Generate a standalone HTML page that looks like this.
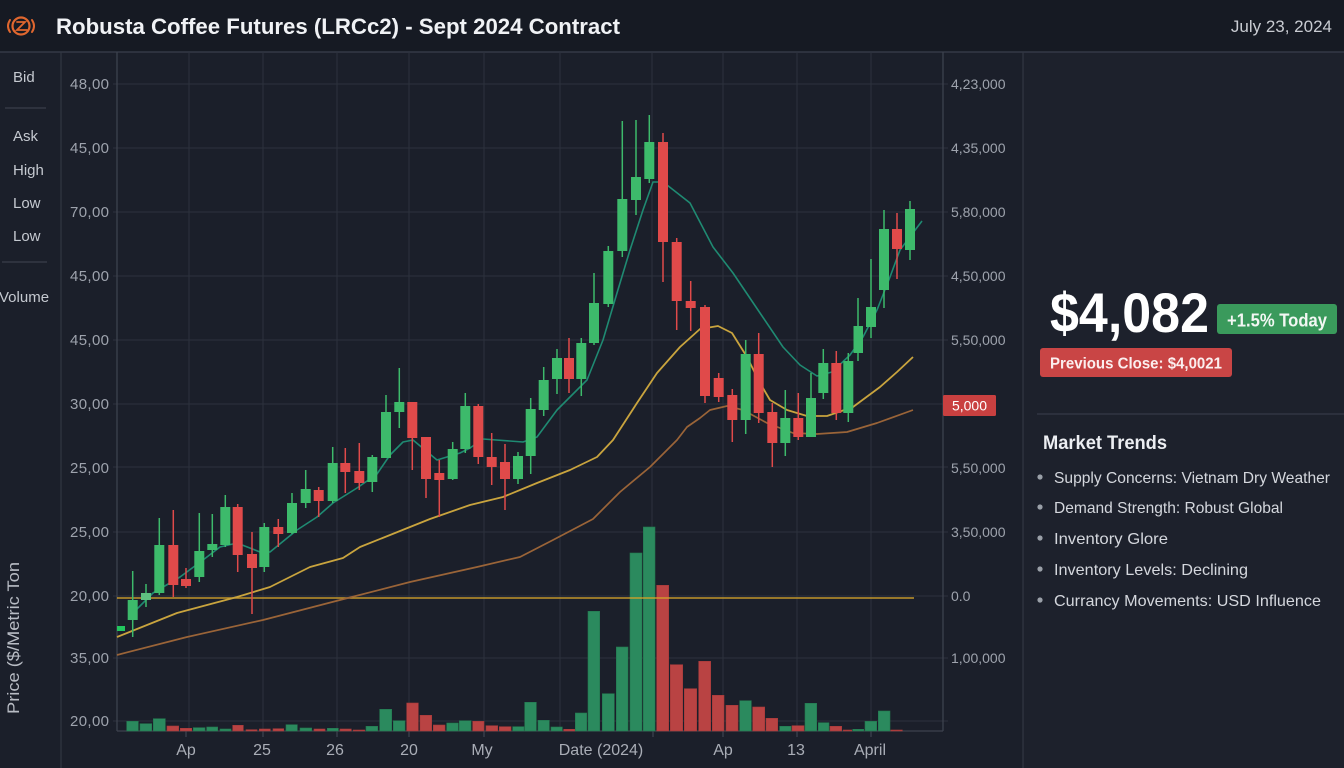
<!DOCTYPE html>
<html>
<head>
<meta charset="utf-8">
<style>
  html,body{margin:0;padding:0;background:#1b1f2a;}
  svg{display:block;}
  text{font-family:"Liberation Sans",Arial,sans-serif;}
</style>
</head>
<body>
<svg width="1344" height="768" viewBox="0 0 1344 768" xmlns="http://www.w3.org/2000/svg">
  <!-- backgrounds -->
  <rect x="0" y="0" width="1344" height="768" fill="#1b1f2a"/>
  <rect x="1023" y="52" width="321" height="716" fill="#1d212c"/>
  <rect x="0" y="0" width="1344" height="52" fill="#161a23"/>
  <line x1="0" y1="52" x2="1344" y2="52" stroke="#343946" stroke-width="1.5"/>

  <!-- logo -->
  <g fill="none" stroke="#e0672f" stroke-linecap="round">
    <circle cx="21" cy="26" r="8.5" stroke-width="2.2"/>
    <path d="M10 20 Q6 26 10 32" stroke-width="2"/>
    <path d="M32 20 Q36 26 32 32" stroke-width="2"/>
    <path d="M17 22 L25 22 L17 30 L27 30" stroke-width="1.8"/>
  </g>

  <!-- header text -->
  <text x="56" y="34" font-size="22" font-weight="bold" fill="#f0f2f5" textLength="564" lengthAdjust="spacingAndGlyphs">Robusta Coffee Futures (LRCc2) - Sept 2024 Contract</text>
  <text x="1332" y="32" font-size="17" fill="#c9ccd2" text-anchor="end">July 23, 2024</text>

  <!-- structural lines -->
  <line x1="61" y1="52" x2="61" y2="768" stroke="#323743" stroke-width="1.2"/>
  <line x1="1023" y1="52" x2="1023" y2="768" stroke="#323743" stroke-width="1.2"/>

  <!-- sidebar -->
  <g font-size="15" fill="#c5c9d0">
    <text x="13" y="82">Bid</text>
    <text x="13" y="141">Ask</text>
    <text x="13" y="175">High</text>
    <text x="13" y="208">Low</text>
    <text x="13" y="241">Low</text>
    <text x="-1" y="302">Volume</text>
  </g>
  <line x1="5" y1="108" x2="46" y2="108" stroke="#3a3f4a" stroke-width="1.2"/>
  <line x1="2" y1="262" x2="47" y2="262" stroke="#3a3f4a" stroke-width="1.2"/>

  <!-- y axis title -->
  <text transform="translate(19,714) rotate(-90)" font-size="17" fill="#b8bcc4" textLength="152" lengthAdjust="spacingAndGlyphs">Price ($/Metric Ton</text>

  <!-- grid -->
  <g stroke="#2d323d" stroke-width="1">
    <line x1="113" y1="84" x2="948" y2="84"/>
    <line x1="113" y1="148" x2="948" y2="148"/>
    <line x1="113" y1="212" x2="948" y2="212"/>
    <line x1="113" y1="276" x2="948" y2="276"/>
    <line x1="113" y1="340" x2="948" y2="340"/>
    <line x1="113" y1="404" x2="948" y2="404"/>
    <line x1="113" y1="467" x2="948" y2="467"/>
    <line x1="113" y1="532" x2="948" y2="532"/>
    <line x1="113" y1="596" x2="948" y2="596"/>
    <line x1="113" y1="658" x2="948" y2="658"/>
    <line x1="113" y1="721" x2="948" y2="721"/>
    <line x1="189" y1="52" x2="189" y2="731"/>
    <line x1="263" y1="52" x2="263" y2="731"/>
    <line x1="337" y1="52" x2="337" y2="731"/>
    <line x1="409" y1="52" x2="409" y2="731"/>
    <line x1="484" y1="52" x2="484" y2="731"/>
    <line x1="560" y1="52" x2="560" y2="731"/>
    <line x1="652" y1="52" x2="652" y2="731"/>
    <line x1="723" y1="52" x2="723" y2="731"/>
    <line x1="797" y1="52" x2="797" y2="731"/>
    <line x1="871" y1="52" x2="871" y2="731"/>
  </g>
  <!-- axes -->
  <g stroke="#3d424e" stroke-width="1.3">
    <line x1="117" y1="52" x2="117" y2="731"/>
    <line x1="943" y1="52" x2="943" y2="731"/>
    <line x1="117" y1="731" x2="943" y2="731"/>
    <line x1="186" y1="731" x2="186" y2="737"/>
    <line x1="263" y1="731" x2="263" y2="737"/>
    <line x1="337" y1="731" x2="337" y2="737"/>
    <line x1="409" y1="731" x2="409" y2="737"/>
    <line x1="484" y1="731" x2="484" y2="737"/>
    <line x1="653" y1="731" x2="653" y2="737"/>
    <line x1="723" y1="731" x2="723" y2="737"/>
    <line x1="797" y1="731" x2="797" y2="737"/>
    <line x1="871" y1="731" x2="871" y2="737"/>
  </g>

  <!-- left axis labels -->
  <g font-size="15" fill="#9ea3ad" text-anchor="end">
    <text x="109" y="89" textLength="39">48,00</text>
    <text x="109" y="153" textLength="39">45,00</text>
    <text x="109" y="217" textLength="39">70,00</text>
    <text x="109" y="281" textLength="39">45,00</text>
    <text x="109" y="345" textLength="39">45,00</text>
    <text x="109" y="409" textLength="39">30,00</text>
    <text x="109" y="473" textLength="39">25,00</text>
    <text x="109" y="537" textLength="39">25,00</text>
    <text x="109" y="601" textLength="39">20,00</text>
    <text x="109" y="663" textLength="39">35,00</text>
    <text x="109" y="726" textLength="39">20,00</text>
  </g>

  <!-- right axis labels -->
  <g font-size="14" fill="#9ea3ad">
    <text x="951" y="89">4,23,000</text>
    <text x="951" y="153">4,35,000</text>
    <text x="951" y="217">5,80,000</text>
    <text x="951" y="281">4,50,000</text>
    <text x="951" y="345">5,50,000</text>
    <text x="951" y="473">5,50,000</text>
    <text x="951" y="537">3,50,000</text>
    <text x="951" y="601">0.0</text>
    <text x="951" y="663">1,00,000</text>
  </g>
  <rect x="943" y="395" width="53" height="21" fill="#c94040" rx="1.5"/>
  <text x="969.5" y="410.5" font-size="14" fill="#ffffff" text-anchor="middle">5,000</text>

  <!-- x axis labels -->
  <g font-size="16" fill="#a9adb6" text-anchor="middle">
    <text x="186" y="755">Ap</text>
    <text x="262" y="755">25</text>
    <text x="335" y="755">26</text>
    <text x="409" y="755">20</text>
    <text x="482" y="755">My</text>
    <text x="601" y="755">Date (2024)</text>
    <text x="723" y="755">Ap</text>
    <text x="796" y="755">13</text>
    <text x="870" y="755">April</text>
  </g>

  <!-- volume bars green -->
  <g fill="#2b8a5e" stroke="#24774f" stroke-width="0.6">
    <rect x="126.7" y="721.3" width="11.6" height="9.7"/>
    <rect x="140" y="723.7" width="11.7" height="7.3"/>
    <rect x="153.3" y="718.7" width="12" height="12.3"/>
    <rect x="193.3" y="727.7" width="11.7" height="3.3"/>
    <rect x="206.7" y="727" width="11" height="4"/>
    <rect x="220" y="729" width="11" height="2"/>
    <rect x="286" y="724.7" width="11.3" height="6.3"/>
    <rect x="300" y="728" width="11.7" height="3"/>
    <rect x="327.3" y="728.3" width="11" height="2.7"/>
    <rect x="366" y="726.3" width="11.7" height="4.7"/>
    <rect x="379.7" y="709.3" width="12" height="21.7"/>
    <rect x="393.3" y="720.7" width="11.7" height="10.3"/>
    <rect x="446.7" y="723" width="11.6" height="8"/>
    <rect x="459.3" y="720.7" width="11.7" height="10.3"/>
    <rect x="512.7" y="726.7" width="11.3" height="4.3"/>
    <rect x="524.7" y="702.3" width="11.6" height="28.7"/>
    <rect x="538" y="720.3" width="11.3" height="10.7"/>
    <rect x="551" y="727" width="11.3" height="4"/>
    <rect x="575.3" y="713" width="11.4" height="18"/>
    <rect x="588" y="611.3" width="11.7" height="119.7"/>
    <rect x="602.3" y="693.7" width="12" height="37.3"/>
    <rect x="616.3" y="647" width="11.7" height="84"/>
    <rect x="630" y="553" width="12" height="178"/>
    <rect x="643.3" y="527" width="11.7" height="204"/>
    <rect x="739.7" y="700.7" width="11.6" height="30.3"/>
    <rect x="779.7" y="726.3" width="11.3" height="4.7"/>
    <rect x="805" y="703.3" width="11.7" height="27.7"/>
    <rect x="818.3" y="722.7" width="10.7" height="8.3"/>
    <rect x="852.7" y="729.3" width="11" height="1.7"/>
    <rect x="865" y="721.3" width="11.7" height="9.7"/>
    <rect x="878.3" y="711" width="11.7" height="20"/>
  </g>
  <!-- volume bars red -->
  <g fill="#b94343" stroke="#a33a3a" stroke-width="0.6">
    <rect x="167" y="726" width="11.7" height="5"/>
    <rect x="180.3" y="728.3" width="11.4" height="2.7"/>
    <rect x="232.7" y="725.3" width="10.6" height="5.7"/>
    <rect x="246" y="729.7" width="11" height="1.3"/>
    <rect x="259.3" y="729" width="11" height="2"/>
    <rect x="273" y="728.7" width="10.7" height="2.3"/>
    <rect x="314" y="729" width="11" height="2"/>
    <rect x="340" y="729" width="11.3" height="2"/>
    <rect x="353.3" y="730" width="11.4" height="1"/>
    <rect x="406.7" y="703" width="11.6" height="28"/>
    <rect x="420" y="715.3" width="11.7" height="15.7"/>
    <rect x="433.3" y="725" width="11.7" height="6"/>
    <rect x="472.7" y="721.3" width="11.3" height="9.7"/>
    <rect x="486" y="725.7" width="11.7" height="5.3"/>
    <rect x="499.3" y="726.7" width="11.7" height="4.3"/>
    <rect x="563.7" y="729.3" width="11" height="1.7"/>
    <rect x="656.7" y="585.3" width="12" height="145.7"/>
    <rect x="670.3" y="664.7" width="12.4" height="66.3"/>
    <rect x="684.3" y="688.7" width="12.4" height="42.3"/>
    <rect x="698.7" y="661.3" width="12" height="69.7"/>
    <rect x="712.3" y="695.3" width="11.7" height="35.7"/>
    <rect x="726" y="705.3" width="12" height="25.7"/>
    <rect x="752.7" y="707" width="12" height="24"/>
    <rect x="766" y="718.3" width="11.7" height="12.7"/>
    <rect x="792" y="725.7" width="12" height="5.3"/>
    <rect x="830" y="726.3" width="11.7" height="4.7"/>
    <rect x="843.3" y="730" width="8.4" height="1"/>
    <rect x="890.7" y="730" width="11.6" height="1"/>
  </g>

  <!-- horizontal level line -->
  <line x1="117" y1="598" x2="914" y2="598" stroke="#d4a22a" stroke-width="1.6" opacity="0.9"/>

  <!-- moving averages -->
  <polyline fill="none" stroke="#9a6438" stroke-width="1.7" stroke-linejoin="round"
    points="117,655 187,637 263,620 340,600 410,582 477,567 520,557 553,540 593,519 620,492 650,467 677,440 687,427 700,418 710,410 727,406 743,410 767,423 793,433 817,434 847,432 877,423 913,410"/>
  <polyline fill="none" stroke="#c9a43e" stroke-width="1.8" stroke-linejoin="round"
    points="117,637 177,613 237,597 270,587 310,567 343,558 360,547 410,527 430,519 470,505 503,497 537,483 570,470 597,457 613,440 637,403 657,373 680,347 700,329 718,326 732,333 747,357 760,383 770,400 787,410 807,416 827,416 853,407 880,387 897,372 913,357"/>
  <polyline fill="none" stroke="#1f8a72" stroke-width="1.6" stroke-linejoin="round"
    points="132,615 138,608 153,593 180,577 203,560 220,547 237,543 260,552 270,552 297,530 317,517 333,503 357,488 377,474 390,455 403,442 413,440 437,460 460,453 470,448 483,439 523,442 537,437 557,410 577,390 587,380 603,340 617,293 630,250 643,210 653,182 660,182 667,185 690,203 713,247 733,273 760,313 783,347 800,365 817,376 832,372 850,355 863,337 877,310 890,277 900,250 922,221"/>

  <!-- candles green -->
  <g stroke="#3dba6b" fill="#3dba6b" stroke-width="1.5">
    <line x1="132.7" y1="571" x2="132.7" y2="637"/><rect x="127.7" y="600" width="10" height="20" stroke="none"/>
    <line x1="146" y1="584" x2="146" y2="607"/><rect x="141" y="593" width="10" height="7" stroke="none" fill="#5fbf80"/>
    <line x1="159.3" y1="518" x2="159.3" y2="595"/><rect x="154.3" y="545" width="10" height="48" stroke="none"/>
    <line x1="199.3" y1="513" x2="199.3" y2="582"/><rect x="194.3" y="551" width="10" height="26" stroke="none"/>
    <line x1="212.3" y1="514" x2="212.3" y2="557"/><rect x="207.3" y="544" width="10" height="6" stroke="none"/>
    <line x1="225.3" y1="495" x2="225.3" y2="547"/><rect x="220.3" y="507" width="10" height="38" stroke="none"/>
    <line x1="264.3" y1="523" x2="264.3" y2="572"/><rect x="259.3" y="527" width="10" height="40" stroke="none"/>
    <line x1="292" y1="493" x2="292" y2="534"/><rect x="287" y="503" width="10" height="30" stroke="none"/>
    <line x1="305.7" y1="470" x2="305.7" y2="508"/><rect x="300.7" y="489" width="10" height="14" stroke="none"/>
    <line x1="332.7" y1="447" x2="332.7" y2="503"/><rect x="327.7" y="463" width="10" height="38" stroke="none"/>
    <line x1="372.3" y1="455" x2="372.3" y2="492"/><rect x="367.3" y="457" width="10" height="25" stroke="none"/>
    <line x1="386" y1="395" x2="386" y2="458"/><rect x="381" y="412" width="10" height="46" stroke="none"/>
    <line x1="399.3" y1="368" x2="399.3" y2="428"/><rect x="394.3" y="402" width="10" height="10" stroke="none"/>
    <line x1="452.7" y1="442" x2="452.7" y2="480"/><rect x="447.7" y="449" width="10" height="30" stroke="none"/>
    <line x1="465.3" y1="393" x2="465.3" y2="453"/><rect x="460.3" y="406" width="10" height="43" stroke="none"/>
    <line x1="518" y1="452" x2="518" y2="484"/><rect x="513" y="456" width="10" height="23" stroke="none"/>
    <line x1="530.7" y1="398" x2="530.7" y2="474"/><rect x="525.7" y="409" width="10" height="47" stroke="none"/>
    <line x1="543.7" y1="367" x2="543.7" y2="416"/><rect x="538.7" y="380" width="10" height="30" stroke="none"/>
    <line x1="557" y1="349" x2="557" y2="394"/><rect x="552" y="358" width="10" height="21" stroke="none"/>
    <line x1="581.3" y1="338" x2="581.3" y2="396"/><rect x="576.3" y="343" width="10" height="36" stroke="none"/>
    <line x1="594" y1="273" x2="594" y2="345"/><rect x="589" y="303" width="10" height="40" stroke="none"/>
    <line x1="608.3" y1="246" x2="608.3" y2="307"/><rect x="603.3" y="251" width="10" height="53" stroke="none"/>
    <line x1="622.3" y1="121" x2="622.3" y2="257"/><rect x="617.3" y="199" width="10" height="52" stroke="none"/>
    <line x1="636" y1="120" x2="636" y2="215"/><rect x="631" y="177" width="10" height="23" stroke="none"/>
    <line x1="649.3" y1="115" x2="649.3" y2="183"/><rect x="644.3" y="142" width="10" height="37" stroke="none"/>
    <line x1="745.7" y1="340" x2="745.7" y2="434"/><rect x="740.7" y="354" width="10" height="66" stroke="none"/>
    <line x1="785.3" y1="390" x2="785.3" y2="456"/><rect x="780.3" y="418" width="10" height="25" stroke="none"/>
    <line x1="811" y1="373" x2="811" y2="437"/><rect x="806" y="398" width="10" height="39" stroke="none"/>
    <line x1="823.3" y1="349" x2="823.3" y2="399"/><rect x="818.3" y="363" width="10" height="30" stroke="none"/>
    <line x1="848.3" y1="353" x2="848.3" y2="422"/><rect x="843.3" y="361" width="10" height="52" stroke="none"/>
    <line x1="858" y1="298" x2="858" y2="361"/><rect x="853.5" y="326" width="9.5" height="27" stroke="none"/>
    <line x1="871" y1="259" x2="871" y2="338"/><rect x="866" y="307" width="10" height="20" stroke="none"/>
    <line x1="884" y1="210" x2="884" y2="308"/><rect x="879" y="229" width="10" height="61" stroke="none"/>
    <line x1="910" y1="201" x2="910" y2="260"/><rect x="905" y="209" width="10" height="41" stroke="none"/>
  </g>
  <rect x="117" y="626" width="8" height="5" fill="#22c55e"/>

  <!-- candles red -->
  <g stroke="#e04a4a" fill="#e04a4a" stroke-width="1.5">
    <line x1="173.3" y1="510" x2="173.3" y2="597"/><rect x="168.3" y="545" width="10" height="40" stroke="none"/>
    <line x1="186" y1="568" x2="186" y2="588"/><rect x="181" y="579" width="10" height="7" stroke="none"/>
    <line x1="237.7" y1="504" x2="237.7" y2="572"/><rect x="232.7" y="507" width="10" height="48" stroke="none"/>
    <line x1="252" y1="532" x2="252" y2="614"/><rect x="247" y="554" width="10" height="14" stroke="none"/>
    <line x1="278.3" y1="519" x2="278.3" y2="547"/><rect x="273.3" y="527" width="10" height="7" stroke="none"/>
    <line x1="318.7" y1="487" x2="318.7" y2="517"/><rect x="313.7" y="490" width="10" height="11" stroke="none"/>
    <line x1="345.3" y1="448" x2="345.3" y2="493"/><rect x="340.3" y="463" width="10" height="9" stroke="none"/>
    <line x1="359.3" y1="443" x2="359.3" y2="490"/><rect x="354.3" y="471" width="10" height="12" stroke="none"/>
    <line x1="412.3" y1="402" x2="412.3" y2="470"/><rect x="407.3" y="402" width="10" height="36" stroke="none"/>
    <line x1="426" y1="437" x2="426" y2="498"/><rect x="421" y="437" width="10" height="42" stroke="none"/>
    <line x1="439.3" y1="460" x2="439.3" y2="517"/><rect x="434.3" y="473" width="10" height="7" stroke="none"/>
    <line x1="478.3" y1="404" x2="478.3" y2="464"/><rect x="473.3" y="406" width="10" height="51" stroke="none"/>
    <line x1="491.7" y1="433" x2="491.7" y2="485"/><rect x="486.7" y="457" width="10" height="10" stroke="none"/>
    <line x1="505" y1="444" x2="505" y2="510"/><rect x="500" y="462" width="10" height="17" stroke="none"/>
    <line x1="569" y1="338" x2="569" y2="393"/><rect x="564" y="358" width="10" height="21" stroke="none"/>
    <line x1="663" y1="133" x2="663" y2="282"/><rect x="658" y="142" width="10" height="100" stroke="none"/>
    <line x1="676.7" y1="238" x2="676.7" y2="330"/><rect x="671.7" y="242" width="10" height="59" stroke="none"/>
    <line x1="690.7" y1="281" x2="690.7" y2="331"/><rect x="685.7" y="301" width="10" height="7" stroke="none"/>
    <line x1="705" y1="305" x2="705" y2="403"/><rect x="700" y="307" width="10" height="89" stroke="none"/>
    <line x1="718.7" y1="373" x2="718.7" y2="402"/><rect x="713.7" y="378" width="10" height="19" stroke="none"/>
    <line x1="732.3" y1="389" x2="732.3" y2="442"/><rect x="727.3" y="395" width="10" height="25" stroke="none"/>
    <line x1="758.7" y1="333" x2="758.7" y2="423"/><rect x="753.7" y="354" width="10" height="59" stroke="none"/>
    <line x1="772.3" y1="403" x2="772.3" y2="467"/><rect x="767.3" y="412" width="10" height="31" stroke="none"/>
    <line x1="798.3" y1="393" x2="798.3" y2="440"/><rect x="793.3" y="418" width="10" height="19" stroke="none"/>
    <line x1="836.3" y1="351" x2="836.3" y2="420"/><rect x="831.3" y="363" width="10" height="50" stroke="none"/>
    <line x1="897" y1="213" x2="897" y2="279"/><rect x="892" y="229" width="10" height="20" stroke="none"/>
  </g>

  <!-- right panel -->
  <text x="1050" y="332" font-size="56" font-weight="bold" fill="#ffffff" textLength="159" lengthAdjust="spacingAndGlyphs">$4,082</text>
  <rect x="1217" y="304" width="120" height="30" rx="3" fill="#3a9a5c"/>
  <text x="1227" y="326.5" font-size="18" font-weight="bold" fill="#f2f7f3" textLength="100" lengthAdjust="spacingAndGlyphs">+1.5% Today</text>
  <rect x="1040" y="348" width="192" height="29" rx="3" fill="#c94545"/>
  <text x="1050" y="368.5" font-size="16" font-weight="bold" fill="#fbeeee" textLength="172" lengthAdjust="spacingAndGlyphs">Previous Close: $4,0021</text>
  <line x1="1037" y1="414" x2="1344" y2="414" stroke="#363b47" stroke-width="1.3"/>
  <text x="1043" y="449" font-size="19" font-weight="bold" fill="#eceef2" textLength="124" lengthAdjust="spacingAndGlyphs">Market Trends</text>
  <g fill="#9aa0a8">
    <circle cx="1040" cy="477" r="2.6"/>
    <circle cx="1040" cy="507" r="2.6"/>
    <circle cx="1040" cy="538" r="2.6"/>
    <circle cx="1040" cy="569" r="2.6"/>
    <circle cx="1040" cy="600" r="2.6"/>
  </g>
  <g font-size="16" fill="#d4d7dd">
    <text x="1054" y="483" textLength="276" lengthAdjust="spacingAndGlyphs">Supply Concerns: Vietnam Dry Weather</text>
    <text x="1054" y="513" textLength="229" lengthAdjust="spacingAndGlyphs">Demand Strength: Robust Global</text>
    <text x="1054" y="544" textLength="114" lengthAdjust="spacingAndGlyphs">Inventory Glore</text>
    <text x="1054" y="575" textLength="194" lengthAdjust="spacingAndGlyphs">Inventory Levels: Declining</text>
    <text x="1054" y="606" textLength="267" lengthAdjust="spacingAndGlyphs">Currancy Movements: USD Influence</text>
  </g>
</svg>
</body>
</html>
